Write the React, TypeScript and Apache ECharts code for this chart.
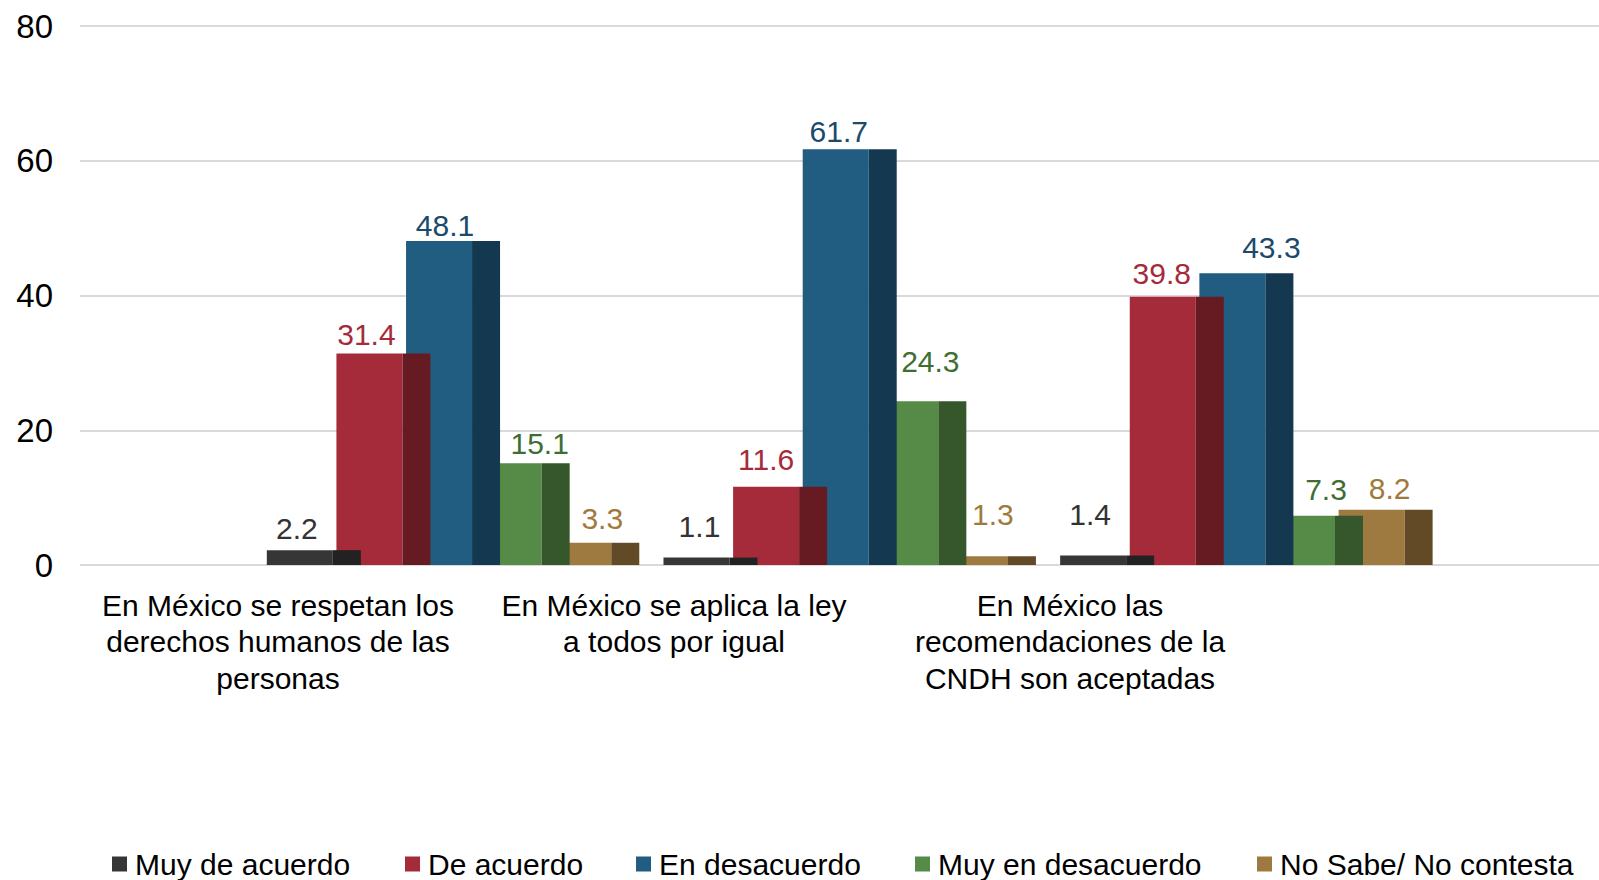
import React, { useEffect, useRef } from "react";
import * as echarts from "echarts";

const categories = [
  "En México se respetan los\nderechos humanos de las\npersonas",
  "En México se aplica la ley\na todos por igual",
  "En México las\nrecomendaciones de la\nCNDH son aceptadas",
];
const seriesNames = [
  "Muy de acuerdo",
  "De acuerdo",
  "En desacuerdo",
  "Muy en desacuerdo",
  "No Sabe/ No contesta",
];
const muyDeAcuerdo = [2.2, 1.1, 1.4];
const deAcuerdo = [31.4, 11.6, 39.8];
const enDesacuerdo = [48.1, 61.7, 43.3];
const muyEnDesacuerdo = [15.1, 24.3, 7.3];
const noSabe = [3.3, 1.3, 8.2];
const yMin = 0;
const yMax = 80;
const yInterval = 20;

const seriesValues = [muyDeAcuerdo, deAcuerdo, enDesacuerdo, muyEnDesacuerdo, noSabe];

// styles
const frontColors = ["#363636", "#A62B3A", "#215D80", "#558B47", "#9E7A40"];
const sideColors = ["#222222", "#661B22", "#133850", "#36562B", "#624A27"];
const labelColors = ["#333333", "#A62B3A", "#1B4A6B", "#3F6E34", "#A07A3C"];
// label placement (px): horizontal offset of label centre from the bar's front-left edge,
// and lift of the baseline above the bar top (as Excel's 3D chart placed them)
const labelDx = [
  [30, 36, 30],
  [30, 33, 32],
  [39, 36, 72],
  [64, 58, 57],
  [57, 51, 51],
];
const labelLift = [
  [13, 22, 32],
  [10, 18, 14],
  [6, 9, 17],
  [11, 31, 17],
  [15, 33, 12],
];
const legendLefts = [112, 405, 636, 915, 1257];

const FONT = "'Liberation Sans', Arial, sans-serif";

export default function App() {
  const ref = useRef<HTMLDivElement>(null);
  useEffect(() => {
    document.body.style.margin = "0";
    if (!ref.current) return;
    const chart = echarts.init(ref.current, undefined, { renderer: "svg" });

    const gridTop = 26;
    const gridBottom = 315;

    const series = seriesValues.map((vals, i) => ({
      type: "custom",
      name: seriesNames[i],
      xAxisIndex: 2,
      yAxisIndex: 2,
      z: 10 - i,
      itemStyle: { color: frontColors[i] },
      encode: { x: 0, y: 1 },
      data: vals.map((v, c) => [c, v]),
      renderItem: (params: any, api: any) => {
        const cat = api.value(0);
        const val = api.value(1);
        const base = api.coord([cat, 0]);
        const top = api.coord([cat, val]);
        const band = api.size([1, 0])[0];
        const pitch = band * 0.1755;
        const fw = band * 0.1664;
        const sw = band * 0.0706;
        const x0 = base[0] - band * 0.474 + i * pitch;
        const h = base[1] - top[1];
        return {
          type: "group",
          children: [
            {
              type: "rect",
              shape: { x: x0, y: top[1], width: fw, height: h },
              style: { fill: frontColors[i] },
            },
            {
              type: "rect",
              shape: { x: x0 + fw, y: top[1], width: sw, height: h },
              style: { fill: sideColors[i] },
            },
            {
              type: "text",
              x: x0 + labelDx[i][cat],
              y: top[1] - labelLift[i][cat] + 6,
              style: {
                text: val.toFixed(1),
                fill: labelColors[i],
                fontSize: 30,
                fontFamily: FONT,
                align: "center",
                verticalAlign: "bottom",
              },
            },
          ],
        };
      },
    }));

    const legends = seriesNames.map((n, i) => ({
      data: [n],
      left: legendLefts[i],
      top: 846,
      padding: 0,
      itemWidth: 15,
      itemHeight: 15,
      icon: "rect",
      selectedMode: false,
      textStyle: {
        fontSize: 30,
        fontFamily: FONT,
        color: "#000",
        lineHeight: 36,
        padding: [0, 0, 0, 3],
      },
    }));

    chart.setOption({
      animation: false,
      backgroundColor: "#fff",
      grid: [
        { left: 80, right: 0, top: gridTop, bottom: gridBottom },
        { left: 80, width: 1188, top: gridTop, bottom: gridBottom },
        { left: 256.5, width: 1190, top: gridTop, bottom: gridBottom },
      ],
      legend: legends,
      xAxis: [
        { gridIndex: 0, type: "category", data: categories, show: false },
        {
          gridIndex: 1,
          type: "category",
          data: categories,
          axisLine: { show: false },
          axisTick: { show: false },
          axisLabel: {
            interval: 0,
            margin: 22,
            fontSize: 30,
            lineHeight: 36.5,
            fontFamily: FONT,
            color: "#000",
            align: "center",
          },
        },
        { gridIndex: 2, type: "category", data: categories, show: false },
      ],
      yAxis: [
        {
          gridIndex: 0,
          type: "value",
          min: yMin,
          max: yMax,
          interval: yInterval,
          axisLine: { show: false },
          axisTick: { show: false },
          axisLabel: {
            margin: 27,
            fontSize: 33,
            fontFamily: FONT,
            color: "#000",
          },
          splitLine: { lineStyle: { color: "#D9D9D9", width: 2 } },
        },
        { gridIndex: 1, type: "value", min: yMin, max: yMax, show: false },
        { gridIndex: 2, type: "value", min: yMin, max: yMax, show: false },
      ],
      series,
    });
    return () => chart.dispose();
  }, []);
  return <div ref={ref} style={{ width: 1599, height: 880 }} />;
}
